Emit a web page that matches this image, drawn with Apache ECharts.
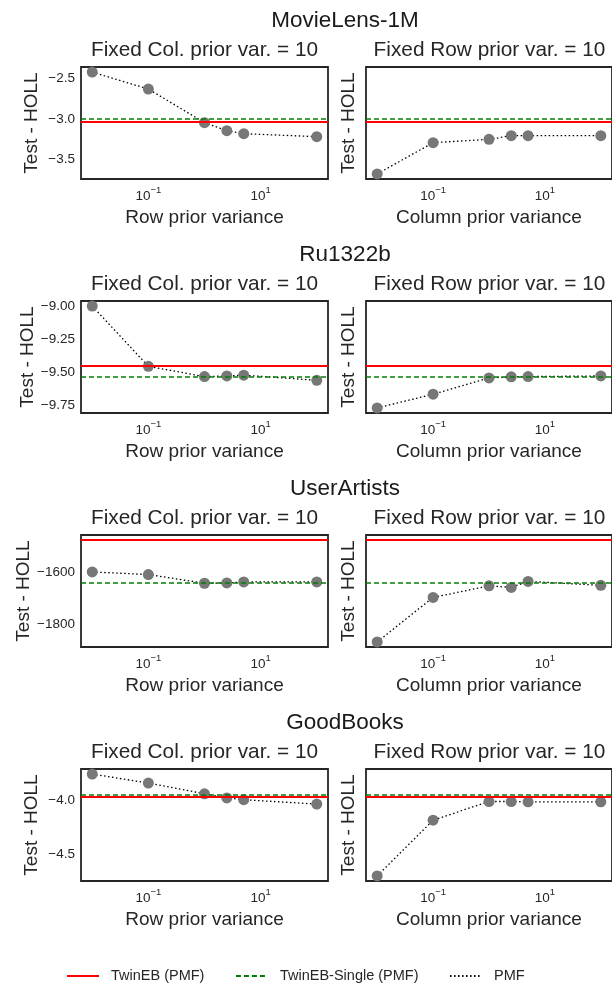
<!DOCTYPE html>
<html>
<head>
<meta charset="utf-8">
<script src="https://cdn.jsdelivr.net/npm/echarts@6/dist/echarts.min.js"></script>
<style>
  html, body { margin: 0; padding: 0; background: #fff; }
  #chart { width: 612px; height: 984px; }
</style>
</head>
<body>
<div id="chart"></div>
<script>
// prior variance values on the x axis (same for every panel)
const priorVars = [0.01, 0.1, 1, 2.5, 5, 100];

const datasets = ['MovieLens-1M', 'Ru1322b', 'UserArtists', 'GoodBooks'];

// PMF test HOLL, varying the row prior (column prior fixed at 10)
const movieRowVar = [-2.417, -2.628, -3.046, -3.146, -3.183, -3.220];
const ruRowVar    = [-8.995, -9.453, -9.531, -9.526, -9.520, -9.559];
const uaRowVar    = [-1600, -1610, -1643, -1642, -1638, -1638];
const gbRowVar    = [-3.753, -3.836, -3.936, -3.974, -3.990, -4.031];

// PMF test HOLL, varying the column prior (row prior fixed at 10)
const movieColVar = [-3.683, -3.295, -3.253, -3.207, -3.207, -3.207];
const ruColVar    = [-9.769, -9.665, -9.541, -9.533, -9.531, -9.526];
const uaColVar    = [-1866, -1697, -1653, -1659, -1636, -1651];
const gbColVar    = [-4.696, -4.180, -4.007, -4.007, -4.010, -4.010];

// reference lines
const twinEB       = [-3.034, -9.453, -1479, -3.959];
const twinEBSingle = [-3.000, -9.526, -1640, -3.936];

// y tick labels per row and their decimals
const yTicks = [
  [-2.5, -3.0, -3.5],
  [-9.00, -9.25, -9.50, -9.75],
  [-1600, -1800],
  [-4.0, -4.5]
];
const yDecimals = [1, 2, 0, 1];

const xTicks = [-1, 1]; // exponents shown: 10^-1, 10^1

const rowVar = [movieRowVar, ruRowVar, uaRowVar, gbRowVar];
const colVar = [movieColVar, ruColVar, uaColVar, gbColVar];

const FONT = 'Liberation Sans, Arial, sans-serif';
const TXT = '#262626';

const chart = echarts.init(document.getElementById('chart'));

const grids = [], xAxes = [], yAxes = [], series = [], graphics = [];

const minus = s => s.replace('-', '\u2212');

for (let r = 0; r < 4; r++) {
  // y range like matplotlib autoscale: 5% margin
  const all = rowVar[r].concat(colVar[r], [twinEB[r], twinEBSingle[r]]);
  const lo = Math.min(...all), hi = Math.max(...all);
  const pad = (hi - lo) * 0.05;
  const top = 67 + 234 * r;

  graphics.push({
    type: 'text', x: 345, y: top - 46.7,
    style: { text: datasets[r], font: '22.5px ' + FONT, fill: '#1a1a1a', textAlign: 'center', textVerticalAlign: 'middle' }
  });

  for (let c = 0; c < 2; c++) {
    const k = r * 2 + c;
    const left = c === 0 ? 81 : 366;
    // right panel runs past the page edge, as in the original
    grids.push({
      left: left, top: top, width: c === 0 ? 247 : 248.5, height: 112,
      show: true, borderColor: '#262626', borderWidth: 1.8, backgroundColor: '#fff'
    });

    graphics.push({
      type: 'text', x: left + 123.5, y: top - 16.7,
      style: {
        text: c === 0 ? 'Fixed Col. prior var. = 10' : 'Fixed Row prior var. = 10',
        font: '20.8px ' + FONT, fill: TXT, textAlign: 'center', textVerticalAlign: 'middle'
      }
    });

    xAxes.push({
      gridIndex: k, type: 'value', min: -2.2, max: 2.2,
      axisLine: { show: false }, axisTick: { show: false }, splitLine: { show: false },
      axisLabel: {
        customValues: xTicks, margin: 6,
        formatter: v => '{b|10}{s|' + minus(String(v)) + '}',
        rich: {
          b: { fontSize: 13.5, fontFamily: FONT, color: TXT, lineHeight: 18, verticalAlign: 'bottom' },
          s: { fontSize: 9.5, fontFamily: FONT, color: TXT, lineHeight: 10, verticalAlign: 'top' }
        }
      },
      name: c === 0 ? 'Row prior variance' : 'Column prior variance',
      nameLocation: 'middle', nameGap: 29,
      nameTextStyle: { fontSize: 19, fontFamily: FONT, color: TXT, verticalAlign: 'top' }
    });

    yAxes.push({
      gridIndex: k, type: 'value', min: lo - pad, max: hi + pad,
      axisLine: { show: false }, axisTick: { show: false }, splitLine: { show: false },
      axisLabel: {
        show: c === 0, customValues: yTicks[r], margin: 6,
        fontSize: 13.5, fontFamily: FONT, color: TXT,
        formatter: v => minus(v.toFixed(yDecimals[r]))
      },
      name: 'Test - HOLL', nameLocation: 'middle', nameGap: c === 0 ? 40 : 8,
      nameTextStyle: { fontSize: 19, fontFamily: FONT, color: TXT }
    });

    const ys = c === 0 ? rowVar[r] : colVar[r];

    series.push({
      type: 'line', name: 'TwinEB (PMF)', xAxisIndex: k, yAxisIndex: k,
      data: [], itemStyle: { color: 'red' }, lineStyle: { color: 'red', width: 2 },
      markLine: {
        silent: true, symbol: ['none', 'none'], label: { show: false },
        lineStyle: { color: 'red', width: 2, type: 'solid' },
        data: [{ yAxis: twinEB[r] }], animation: false
      }
    });
    series.push({
      type: 'line', name: 'TwinEB-Single (PMF)', xAxisIndex: k, yAxisIndex: k,
      data: [], itemStyle: { color: 'green' }, lineStyle: { color: 'green', width: 1.5, type: [5, 3] },
      markLine: {
        silent: true, symbol: ['none', 'none'], label: { show: false },
        lineStyle: { color: 'green', width: 1.5, type: [5, 3] },
        data: [{ yAxis: twinEBSingle[r] }], animation: false
      }
    });
    series.push({
      type: 'line', name: 'PMF', xAxisIndex: k, yAxisIndex: k, z: 3,
      data: priorVars.map((x, i) => [Math.log10(x), ys[i]]),
      symbol: 'circle', symbolSize: 11, showSymbol: true,
      itemStyle: { color: '#777777' },
      lineStyle: { color: '#000', width: 1.3, type: [1.5, 2.5] }
    });
  }
}

chart.setOption({
  animation: false,
  textStyle: { fontFamily: FONT },
  grid: grids,
  xAxis: xAxes,
  yAxis: yAxes,
  series: series,
  graphic: graphics,
  legend: {
    left: 61, top: 963.5, itemWidth: 32, itemHeight: 14, itemGap: 30.5,
    selectedMode: false,
    itemStyle: { opacity: 0 },
    textStyle: { fontSize: 14.5, fontFamily: FONT, color: TXT, padding: [0, 0, 0, 7] },
    data: ['TwinEB (PMF)', 'TwinEB-Single (PMF)', 'PMF']
  }
});
</script>
</body>
</html>
